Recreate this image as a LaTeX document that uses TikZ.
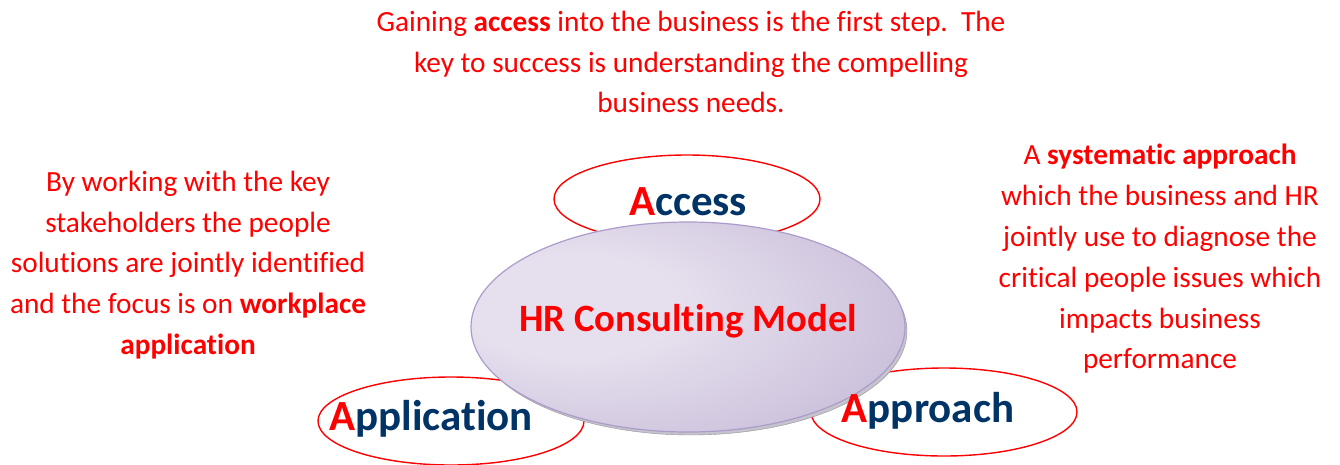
\documentclass[tikz,border=0pt]{standalone}
\usepackage{fontspec}
\setmainfont{Carlito}[Ligatures=NoCommon]
\usetikzlibrary{positioning, shapes.geometric}

\definecolor{hrred}{RGB}{255,0,0}
\definecolor{hrnavy}{RGB}{0,51,102}
\definecolor{hrlilac}{RGB}{230,224,238}
\definecolor{hrplum}{RGB}{180,164,202}
\definecolor{hredge}{RGB}{172,156,202}
\definecolor{hrrim}{RGB}{150,145,160}

\pgfdeclareradialshading{hrglow}{\pgfpoint{-16bp}{6bp}}{%
  color(0bp)=(hrlilac); color(12bp)=(hrlilac); color(38bp)=(hrplum!60!hrlilac);
  color(56bp)=(hrplum); color(70bp)=(hrplum!90!black)}

\newcommand{\redA}{{\color{hrred}A}}

\begin{document}
\begin{tikzpicture}[
    x=1pt, y=-1pt,
    phase/.style={ellipse, draw=hrred, line width=1.4pt, fill=white, inner sep=0pt,
                  minimum width=266pt, minimum height=88pt},
    phase label/.style={text=hrnavy, inner sep=0pt,
                        font=\fontsize{43}{48}\selectfont\bfseries},
    core/.style={ellipse, draw=hredge, line width=1.2pt, inner sep=0pt,
                 shading=hrglow, minimum width=434pt, minimum height=210pt},
    core label/.style={text=hrred, inner sep=0pt,
                       font=\fontsize{38.7}{44}\selectfont\bfseries},
    core rim/.style={ellipse, draw=hrrim, fill=hrrim!55, inner sep=0pt,
                     minimum width=432pt, minimum height=208pt},
    note/.style={text=hrred, align=center, inner sep=0pt,
                 font=\fontsize{29.3}{40.8}\selectfont}
]
\useasboundingbox (0,0) rectangle (1340,464);

% Define the three phases
\node[phase] (access) at (687,199) {};
\node[phase] (application) at (451,421) {};
\node[phase] (approach) at (944,412) {};

% Central model
\node[core rim] (modelRim) at (691,331) {};
\node[core] (model) at (688,327) {};
\node[core label] (modelText) at (688,321) {HR Consulting Model};

% Phase names
\node[phase label] (accessText) at (688,202) {\redA ccess};
\node[phase label] (applicationText) at (431,419) {\redA pplication};
\node[phase label] (approachText) at (928,411) {\redA pproach};

% Descriptions
\node[note] (accessNote) at (691,62)
    {Gaining \textbf{access} into the business is the first step.\ \ The\\
     key to success is understanding the compelling\\
     business needs.};
\node[note] (applicationNote) at (188,265)
    {By working with the key\\
     stakeholders the people\\
     solutions are jointly identified\\
     and the focus is on \textbf{workplace}\\
     \textbf{application}};
\node[note] (approachNote) at (1160,259)
    {A \textbf{systematic approach}\\
     which the business and HR\\
     jointly use to diagnose the\\
     critical people issues which\\
     impacts business\\
     performance};

\end{tikzpicture}
\end{document}
